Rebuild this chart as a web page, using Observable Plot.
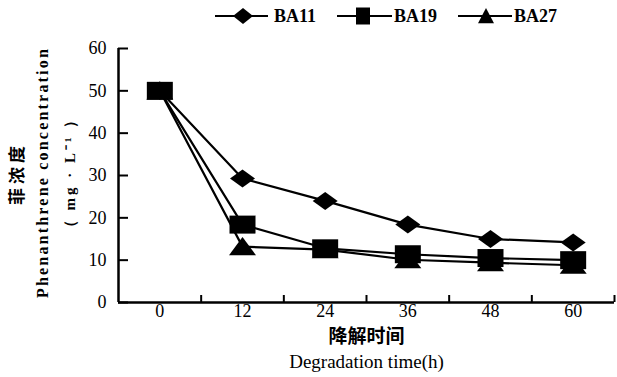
<!DOCTYPE html>
<html>
<head>
<meta charset="utf-8">
<script src="https://cdn.jsdelivr.net/npm/d3@7"></script>
<script src="https://cdn.jsdelivr.net/npm/@observablehq/plot@0.6"></script>
<style>
  html, body { margin: 0; padding: 0; background: #fff; }
  #wrap { position: relative; width: 617px; height: 377px; overflow: hidden; background: #fff; }
  #wrap > svg.plot { position: absolute; left: 0; top: 0; }
  #legend { position: absolute; left: 0; top: 0; }
</style>
</head>
<body>
<div id="wrap"></div>
<script>
// ---- data ----
const times = [0, 12, 24, 36, 48, 60];
const seriesNames = ["BA11", "BA19", "BA27"];
const BA11 = [50, 29.3, 24.0, 18.4, 15.0, 14.2];
const BA19 = [50, 18.4, 12.8, 11.4, 10.5, 10.0];
const BA27 = [50, 13.2, 12.5, 10.1, 9.4, 8.8];
const yTicks = [0, 10, 20, 30, 40, 50, 60];
const xTitleCN = "降解时间";
const xTitleEN = "Degradation time(h)";
const yTitleCN = "菲浓度";
const yTitleEN = "Phenanthrene concentration";
const yTitleUnit = "（ mg · L⁻¹ ）";

const seriesValues = {BA11, BA19, BA27};
const table = seriesNames.flatMap(s => times.map((t, j) => ({series: s, time: t, value: seriesValues[s][j]})));
// category boundaries (half step between sampling times)
const step = times[1] - times[0];
const boundaries = times.map(t => t + step / 2);
const xDomain = [times[0] - step / 2, times[times.length - 1] + step / 2];

// ---- marker shapes (slightly wide, as in the figure) ----
function shape(kind, hw, hh) {
  return {
    draw(ctx) {
      if (kind === "diamond") {
        ctx.moveTo(0, -hh); ctx.lineTo(hw, 0); ctx.lineTo(0, hh); ctx.lineTo(-hw, 0); ctx.closePath();
      } else if (kind === "square") {
        ctx.moveTo(-hw, -hh); ctx.lineTo(hw, -hh); ctx.lineTo(hw, hh); ctx.lineTo(-hw, hh); ctx.closePath();
      } else {
        ctx.moveTo(0, -hh); ctx.lineTo(hw, hh * 0.9); ctx.lineTo(-hw, hh * 0.9); ctx.closePath();
      }
    }
  };
}
const symbols = {
  BA11: shape("diamond", 12.5, 9),
  BA19: shape("square", 13, 9),
  BA27: shape("triangle", 13.5, 9.5)
};

const SERIF = "'Liberation Serif', 'Times New Roman', serif";
const CJK = "'Noto Sans CJK SC', sans-serif";
const W = 617, H = 377, mL = 118, mR = 3, mT = 48, mB = 75;
const innerW = W - mL - mR, innerH = H - mT - mB;

const chart = Plot.plot({
  width: W, height: H,
  marginLeft: mL, marginRight: mR, marginTop: mT, marginBottom: mB,
  x: {type: "linear", domain: xDomain, axis: null},
  y: {domain: [0, 60], axis: null},
  style: {fontFamily: SERIF, fontSize: "18px", color: "#000", background: "#fff"},
  marks: [
    // axes
    Plot.ruleX([xDomain[0]], {stroke: "#000", strokeWidth: 2.5}),
    Plot.ruleY([0], {stroke: "#000", strokeWidth: 2.5}),
    Plot.tickY(yTicks, {y: d => d, stroke: "#000", strokeWidth: 2, insetRight: innerW - 10}),
    Plot.text(yTicks, {y: d => d, x: xDomain[0], dx: -12, textAnchor: "end", text: d => String(d), fill: "#000",
      fontSize: 18, fontFamily: SERIF}),
    Plot.tickX(boundaries, {x: d => d, stroke: "#000", strokeWidth: 2, insetTop: innerH - 7}),
    Plot.text(times, {x: d => d, frameAnchor: "bottom", dy: 14, text: d => String(d), fill: "#000",
      fontSize: 18, fontFamily: SERIF}),
    // titles
    Plot.text([xTitleCN], {frameAnchor: "bottom", dy: 40, textAnchor: "middle", text: d => d, fill: "#000", fontSize: 19,
      fontWeight: "bold", fontFamily: CJK}),
    Plot.text([xTitleEN], {frameAnchor: "bottom", dy: 65, textAnchor: "middle", text: d => d, fill: "#000", fontSize: 19,
      fontFamily: SERIF}),
    Plot.text([yTitleCN], {frameAnchor: "left", dx: -101, dy: -2, rotate: -90, textAnchor: "middle", text: d => d,
      fill: "#000", fontSize: 17, fontWeight: "bold", fontFamily: CJK}),
    Plot.text([yTitleEN], {frameAnchor: "left", dx: -76, dy: -3, rotate: -90, textAnchor: "middle", text: d => d,
      fill: "#000", fontSize: 16, fontWeight: "bold", fontFamily: SERIF}),
    Plot.text([yTitleUnit], {frameAnchor: "left", dx: -48, dy: -3, rotate: -90, textAnchor: "middle", text: d => d,
      fill: "#000", fontSize: 15, fontWeight: "bold", fontFamily: SERIF}),
    // series lines
    Plot.line(table, {x: "time", y: "value", z: "series", stroke: "#000", strokeWidth: 2.2}),
    // markers: BA19 drawn last (on top)
    ...["BA11", "BA27", "BA19"].map(s =>
      Plot.dot(table.filter(d => d.series === s), {x: "time", y: "value", symbol: symbols[s], fill: "#000", stroke: "none"}))
  ]
});
chart.classList.add("plot");
document.getElementById("wrap").appendChild(chart);

// spacing tweaks for the rotated titles
chart.querySelectorAll("text").forEach(t => {
  if (t.textContent === yTitleCN) t.setAttribute("letter-spacing", "4");
  if (t.textContent === yTitleEN) t.setAttribute("letter-spacing", "2.2");
  if (t.textContent === yTitleUnit) t.setAttribute("letter-spacing", "3");
});

// ---- legend ----
const legendItems = [
  {name: "BA11", x0: 215, x1: 268, cx: 243, tx: 274, sym: shape("diamond", 10, 8)},
  {name: "BA19", x0: 337, x1: 392, cx: 363, tx: 394, sym: shape("square", 7, 8.5)},
  {name: "BA27", x0: 458, x1: 512, cx: 486, tx: 514, sym: shape("triangle", 8, 8)}
];
const lg = d3.select("#wrap").append("svg").attr("id", "legend").attr("width", W).attr("height", 36);
const ly = 16;
for (const it of legendItems) {
  lg.append("line").attr("x1", it.x0).attr("x2", it.x1).attr("y1", ly).attr("y2", ly)
    .attr("stroke", "#000").attr("stroke-width", 1.8);
  const p = d3.path(); it.sym.draw(p);
  lg.append("path").attr("d", p.toString()).attr("transform", `translate(${it.cx},${ly})`).attr("fill", "#000");
  lg.append("text").attr("x", it.tx).attr("y", ly).attr("dy", "0.35em")
    .attr("font-family", SERIF).attr("font-weight", "bold").attr("font-size", 18)
    .attr("fill", "#000").text(it.name);
}
</script>
</body>
</html>
